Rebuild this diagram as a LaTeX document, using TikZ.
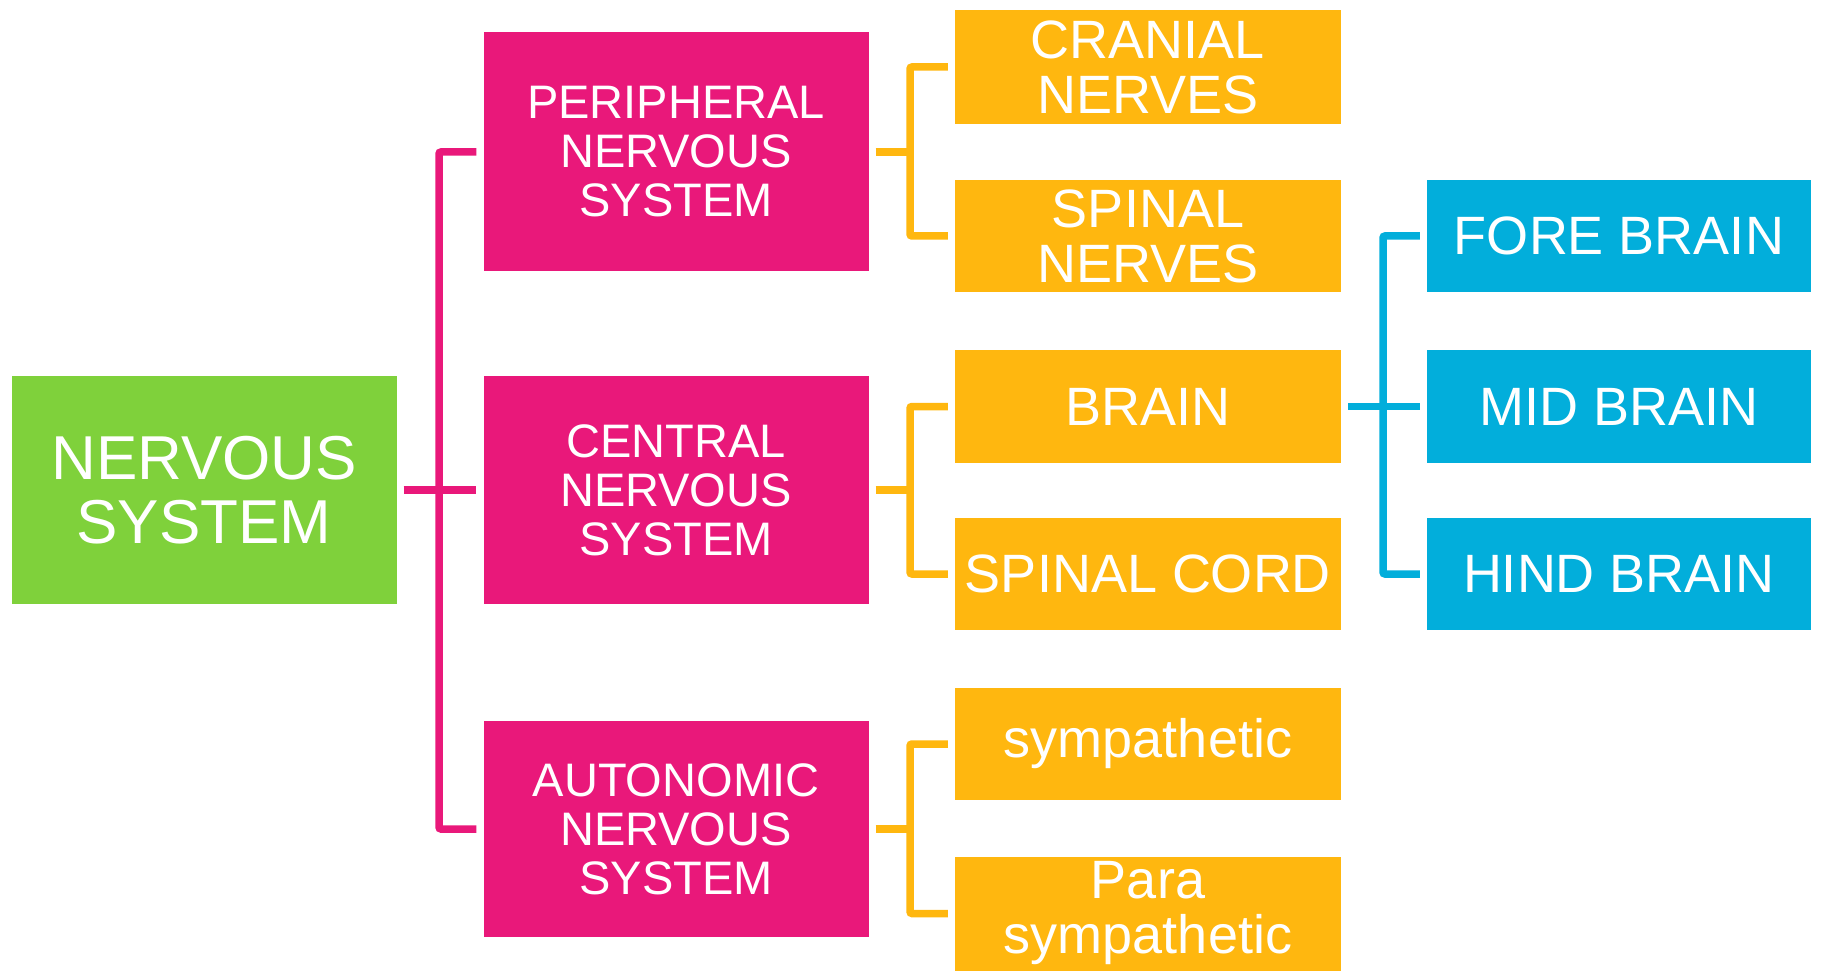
\documentclass[tikz,border=0pt]{standalone}
\usepackage{fontspec}
\setmainfont{Liberation Sans}
\definecolor{nsgreen}{RGB}{127,209,59}
\definecolor{nspink}{RGB}{233,24,122}
\definecolor{nsorange}{RGB}{255,183,15}
\definecolor{nsblue}{RGB}{2,174,219}
\tikzstyle{box} = [rectangle, inner sep=0pt, text=white, align=center]
\tikzstyle{mainbox} = [box, fill=nsgreen, minimum width=385pt, minimum height=228pt,
                       font=\fontsize{62}{64}\selectfont]
\tikzstyle{pinkbox} = [box, fill=nspink, minimum width=385pt,
                       font=\fontsize{47}{49}\selectfont]
\tikzstyle{orangebox} = [box, fill=nsorange, minimum width=386pt, minimum height=112pt,
                         font=\fontsize{54}{55}\selectfont]
\tikzstyle{bluebox} = [box, fill=nsblue, minimum width=384pt, minimum height=112pt,
                       font=\fontsize{54}{55}\selectfont]
\tikzstyle{link} = [line width=7.5pt, rounded corners=2pt, shorten <=7pt, shorten >=7pt]

\begin{document}
\begin{tikzpicture}[x=1pt, y=-1pt]
        \useasboundingbox (0,0) rectangle (1823,973);

        \node at (204,490)(NS) [mainbox] {NERVOUS\\SYSTEM};

        %nervous systems
        \node at (676,152)(PNS) [pinkbox, minimum height=239pt] {PERIPHERAL\\NERVOUS\\SYSTEM};
        \node at (676,490)(CNS) [pinkbox, minimum height=228pt] {CENTRAL\\NERVOUS\\SYSTEM};
        \node at (676,829)(ANS) [pinkbox, minimum height=216pt] {AUTONOMIC\\NERVOUS\\SYSTEM};

        %parts
        \node at (1148,67)(CN) [orangebox, minimum height=114pt] {CRANIAL\\NERVES};
        \node at (1148,236)(SN) [orangebox] {SPINAL\\NERVES};
        \node at (1148,406.5)(BR) [orangebox] {BRAIN};
        \node at (1148,574)(SC) [orangebox] {SPINAL CORD};
        \node at (1148,744)(SY) [orangebox] {sympathetic};
        \node at (1148,913.5)(PS) [orangebox, minimum height=114pt] {Para\\sympathetic};

        %brain parts
        \node at (1619,236)(FB) [bluebox] {FORE BRAIN};
        \node at (1619,406.5)(MB) [bluebox] {MID BRAIN};
        \node at (1619,574)(HB) [bluebox] {HIND BRAIN};

        %pink lines
        \coordinate (pinkbus) at (439,490);
        \draw [link, nspink] (PNS.west) -| (pinkbus) |- (ANS.west);
        \draw [link, nspink] (NS.east) -- (CNS.west);

        %orange lines
        \coordinate (obus1) at (910,152);
        \coordinate (obus2) at (910,490);
        \coordinate (obus3) at (910,829);
        \draw [link, nsorange] (CN.west) -| (obus1) |- (SN.west);
        \draw [link, nsorange, shorten >=0pt] (PNS.east) -- (obus1);
        \draw [link, nsorange] (BR.west) -| (obus2) |- (SC.west);
        \draw [link, nsorange, shorten >=0pt] (CNS.east) -- (obus2);
        \draw [link, nsorange] (SY.west) -| (obus3) |- (PS.west);
        \draw [link, nsorange, shorten >=0pt] (ANS.east) -- (obus3);

        %blue lines
        \coordinate (bbus) at (1383,406.5);
        \draw [link, nsblue] (FB.west) -| (bbus) |- (HB.west);
        \draw [link, nsblue] (BR.east) -- (MB.west);

\end{tikzpicture}
\end{document}
